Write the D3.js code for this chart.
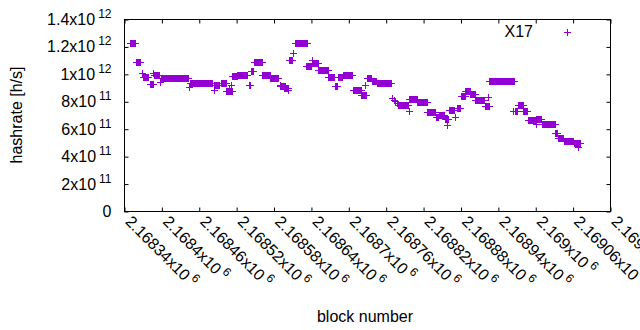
<!DOCTYPE html>
<html>
<head>
<meta charset="utf-8">
<script src="https://cdn.jsdelivr.net/npm/d3@7"></script>
<style>
  body { margin: 0; background: #fff; }
  text { font-family: "Liberation Sans", Arial, sans-serif; fill: #000; }
</style>
</head>
<body>
<div id="chart"></div>
<script>
// tick values
const xTickValues = [2168340, 2168400, 2168460, 2168520, 2168580, 2168640, 2168700,
  2168760, 2168820, 2168880, 2168940, 2169000, 2169060, 2169120];
const yTickValues = [0, 2e11, 4e11, 6e11, 8e11, 1e12, 1.2e12, 1.4e12];

// hashrate, as runs of blocks with the same value
// (a single point has runFrom == runTo)
const runFrom = [2168349, 2168359, 2168369, 2168371, 2168381, 2168387, 2168388, 2168398, 2168399, 2168444,
  2168446, 2168484, 2168485, 2168495, 2168504, 2168508, 2168511, 2168513, 2168522, 2168540,
  2168544, 2168548, 2168562, 2168575, 2168590, 2168591, 2168597, 2168604, 2168605, 2168612,
  2168614, 2168632, 2168641, 2168642, 2168652, 2168668, 2168678, 2168683, 2168691, 2168707,
  2168721, 2168727, 2168730, 2168738, 2168746, 2168770, 2168773, 2168775, 2168778, 2168780,
  2168797, 2168798, 2168811, 2168827, 2168840, 2168845, 2168855, 2168858, 2168861, 2168871,
  2168874, 2168881, 2168888, 2168896, 2168904, 2168919, 2168924, 2168926, 2168964, 2168967,
  2168972, 2168981, 2168988, 2169001, 2169002, 2169011, 2169032, 2169036, 2169046, 2169062,
  2169069];
const runTo = [2168357, 2168366, 2168369, 2168378, 2168386, 2168387, 2168396, 2168398, 2168442, 2168444,
  2168482, 2168484, 2168493, 2168503, 2168514, 2168508, 2168511, 2168521, 2168538, 2168543,
  2168547, 2168561, 2168574, 2168587, 2168590, 2168598, 2168603, 2168604, 2168610, 2168612,
  2168634, 2168640, 2168641, 2168651, 2168667, 2168677, 2168682, 2168690, 2168706, 2168720,
  2168729, 2168727, 2168737, 2168745, 2168768, 2168770, 2168773, 2168775, 2168778, 2168796,
  2168797, 2168810, 2168826, 2168839, 2168844, 2168853, 2168860, 2168858, 2168869, 2168871,
  2168880, 2168887, 2168895, 2168903, 2168918, 2168925, 2168924, 2168966, 2168964, 2168971,
  2168980, 2168987, 2169000, 2169001, 2169010, 2169031, 2169035, 2169045, 2169061, 2169072,
  2169069];
const runRate = [1.228e12, 1.085e12, 1.009e12, 0.975e12, 0.925e12, 1.009e12, 0.994e12, 0.943e12, 0.972e12, 0.906e12,
  0.936e12, 0.885e12, 0.918e12, 0.932e12, 0.877e12, 0.9e12, 0.921e12, 0.987e12, 0.994e12, 0.918e12,
  1.023e12, 1.089e12, 0.994e12, 0.972e12, 0.921e12, 0.91e12, 0.896e12, 0.88e12, 1.104e12, 1.155e12,
  1.225e12, 1.06e12, 1.104e12, 1.078e12, 1.031e12, 0.976e12, 0.91e12, 0.98e12, 0.994e12, 0.885e12,
  0.844e12, 0.921e12, 0.969e12, 0.95e12, 0.932e12, 0.826e12, 0.811e12, 0.799e12, 0.787e12, 0.771e12,
  0.731e12, 0.815e12, 0.793e12, 0.72e12, 0.684e12, 0.702e12, 0.669e12, 0.629e12, 0.735e12, 0.687e12,
  0.749e12, 0.84e12, 0.877e12, 0.855e12, 0.811e12, 0.768e12, 0.833e12, 0.947e12, 0.726e12, 0.731e12,
  0.771e12, 0.731e12, 0.665e12, 0.636e12, 0.669e12, 0.636e12, 0.57e12, 0.534e12, 0.512e12, 0.493e12,
  0.468e12];

const seriesName = 'X17';
const color = '#9400d3';

let margin = { left: 124.5, right: 29.5, top: 19.5, bottom: 118.5 };
let W = 640, H = 330;
let width = W - margin.left - margin.right;
let height = H - margin.top - margin.bottom;

var svg = d3.select('#chart')
  .append('svg')
    .attr('width', W)
    .attr('height', H)
    .style('display', 'block');

var g = svg.append('g')
    .attr('transform', 'translate(' + margin.left + ',' + margin.top + ')');

// scales
var x = d3.scaleLinear()
    .domain([xTickValues[0], xTickValues[xTickValues.length - 1]])
    .range([0, width]);
var y = d3.scaleLinear()
    .domain([0, 1.4e12])
    .range([height, 0]);

// gnuplot style "mantissa x10^exp"
function sciParts(v) {
  if (v === 0) return ['0', null];
  let e = Math.floor(Math.log10(v));
  let m = +(v / Math.pow(10, e)).toPrecision(6);
  return [m + 'x10', String(e)];
}

// ticks, pointing in, mirrored
g.append('g')
    .attr('transform', 'translate(0,' + height + ')')
    .call(d3.axisBottom(x).tickValues(xTickValues).tickSize(-4).tickFormat(''));
g.append('g')
    .call(d3.axisTop(x).tickValues(xTickValues).tickSize(-4).tickFormat(''));
g.append('g')
    .call(d3.axisLeft(y).tickValues(yTickValues).tickSize(-4).tickFormat(''));
g.append('g')
    .attr('transform', 'translate(' + width + ',0)')
    .call(d3.axisRight(y).tickValues(yTickValues).tickSize(-4).tickFormat(''));
g.selectAll('.domain').remove();
g.selectAll('.tick line').attr('stroke', '#000');

// frame
g.append('rect')
    .attr('width', width)
    .attr('height', height)
    .attr('fill', 'none')
    .attr('stroke', '#000');

// y tick labels
yTickValues.forEach(function (v) {
  let p = sciParts(v);
  let t = g.append('text')
      .attr('x', -13)
      .attr('y', y(v) + 5.5)
      .attr('text-anchor', 'end')
      .attr('font-size', '16px');
  t.append('tspan').text(p[0]);
  if (p[1]) {
    t.append('tspan').attr('dx', 3).attr('dy', -7).attr('font-size', '12px').text(p[1]);
  }
});

// x tick labels, rotated
xTickValues.forEach(function (v) {
  let p = sciParts(v);
  let t = g.append('text')
      .attr('transform', 'translate(' + x(v) + ',' + (height + 11) + ') rotate(45)')
      .attr('text-anchor', 'start')
      .attr('font-size', '16px');
  t.append('tspan').text(p[0]);
  t.append('tspan').attr('dx', 3).attr('dy', -7).attr('font-size', '12px').text(p[1]);
});

// axis titles
svg.append('text')
    .attr('transform', 'translate(22,115) rotate(-90)')
    .attr('text-anchor', 'middle')
    .attr('font-size', '16px')
    .text('hashrate [h/s]');
svg.append('text')
    .attr('x', 365)
    .attr('y', 322)
    .attr('text-anchor', 'middle')
    .attr('font-size', '16px')
    .text('block number');

// expand runs into one point per block
let points = [];
runFrom.forEach(function (b0, i) {
  for (let b = b0; b <= runTo[i]; b++) {
    points.push({ block: b, rate: runRate[i] });
  }
});

var plus = 'M-3.5,0H3.5M0,-3.5V3.5';

// snap to pixel centres so the marks stay solid like the reference
g.append('g')
  .selectAll('path')
  .data(points)
  .enter()
  .append('path')
    .attr('d', plus)
    .attr('transform', function (d) {
      return 'translate(' + Math.round(x(d.block)) + ',' + Math.round(y(d.rate)) + ')';
    })
    .attr('fill', 'none')
    .attr('stroke', color)
    .attr('stroke-width', 1);

// legend
svg.append('text')
    .attr('x', 533)
    .attr('y', 37)
    .attr('text-anchor', 'end')
    .attr('font-size', '16px')
    .text(seriesName);
svg.append('path')
    .attr('d', plus)
    .attr('transform', 'translate(567.5,32.5)')
    .attr('fill', 'none')
    .attr('stroke', color);
</script>
</body>
</html>
